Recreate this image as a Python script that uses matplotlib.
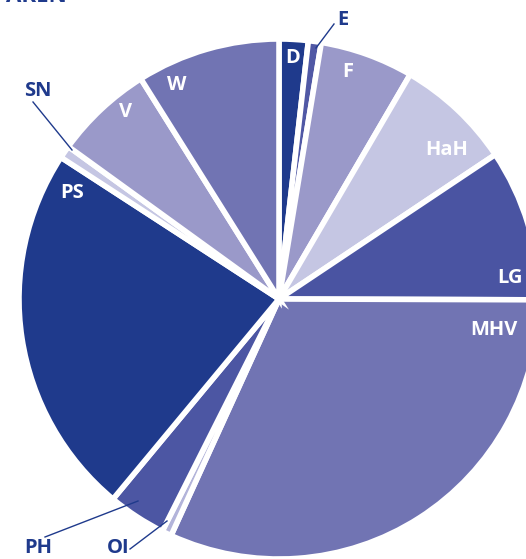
import numpy as np
import matplotlib.pyplot as plt

plt.rcParams['font.family'] = ['Open Sans', 'DejaVu Sans']

# slices, clockwise from 12 o'clock (percent)
labels = ["D", "E", "F", "HaH", "LG", "MHV", "OI", "PH", "PS", "SN", "V", "W"]
values = [1.8, 0.8, 5.8, 7.2, 9.4, 31.7, 0.6, 3.6, 23.1, 0.8, 6.1, 8.9]
colors = ["#1f3a8c", "#5058a5", "#9a99c9", "#c5c6e3", "#4a54a2", "#7174b3",
          "#b3b4da", "#4c56a3", "#1f3a8c", "#c5c6e3", "#9a99c9", "#7174b3"]

# inside labels (white) and outside labels with leader lines (pixel coords)
inner_pos = {"D": (293, 58), "F": (348, 72), "HaH": (447, 150), "LG": (510, 278),
             "MHV": (494, 330), "PS": (72, 193), "V": (126, 112), "W": (177, 85)}
outer_pos = {"E": ((343, 20), (334, 24), (316, 48)),
             "SN": ((38, 91), (33, 102), (72, 150)),
             "PH": ((38, 548), (45, 537), (138, 501)),
             "OI": ((118, 548), (130, 549), (167, 521))}

W, H = 526, 559
fig = plt.figure(figsize=(W / 100, H / 100), dpi=100)
ax = fig.add_axes([0, 0, 1, 1])

cx, cy, r = 279, H - 299, 260
ax.pie(values, colors=colors, startangle=90, counterclock=False,
       center=(cx, cy), radius=r, frame=True,
       wedgeprops=dict(edgecolor='white', linewidth=4))
ax.set_xlim(0, W)
ax.set_ylim(0, H)
ax.set_aspect('equal')
ax.axis('off')

for lab, (x, y) in inner_pos.items():
    ax.text(x, H - y, lab, color='white', fontsize=14.5, fontweight='bold',
            ha='center', va='center')

for lab, ((tx, ty), (x0, y0), (x1, y1)) in outer_pos.items():
    ax.text(tx, H - ty, lab, color='#1f3a8c', fontsize=14.5, fontweight='bold',
            ha='center', va='center')
    ax.plot([x0, x1], [H - y0, H - y1], color='#1f3a8c', lw=1)

# title cut off at the top of the picture
ax.text(67, H - 2.5, "AKEN", color='#1f3a8c', fontsize=16, fontweight='bold',
        ha='right', va='baseline', clip_on=False)

fig.savefig("out.png", dpi=100)
